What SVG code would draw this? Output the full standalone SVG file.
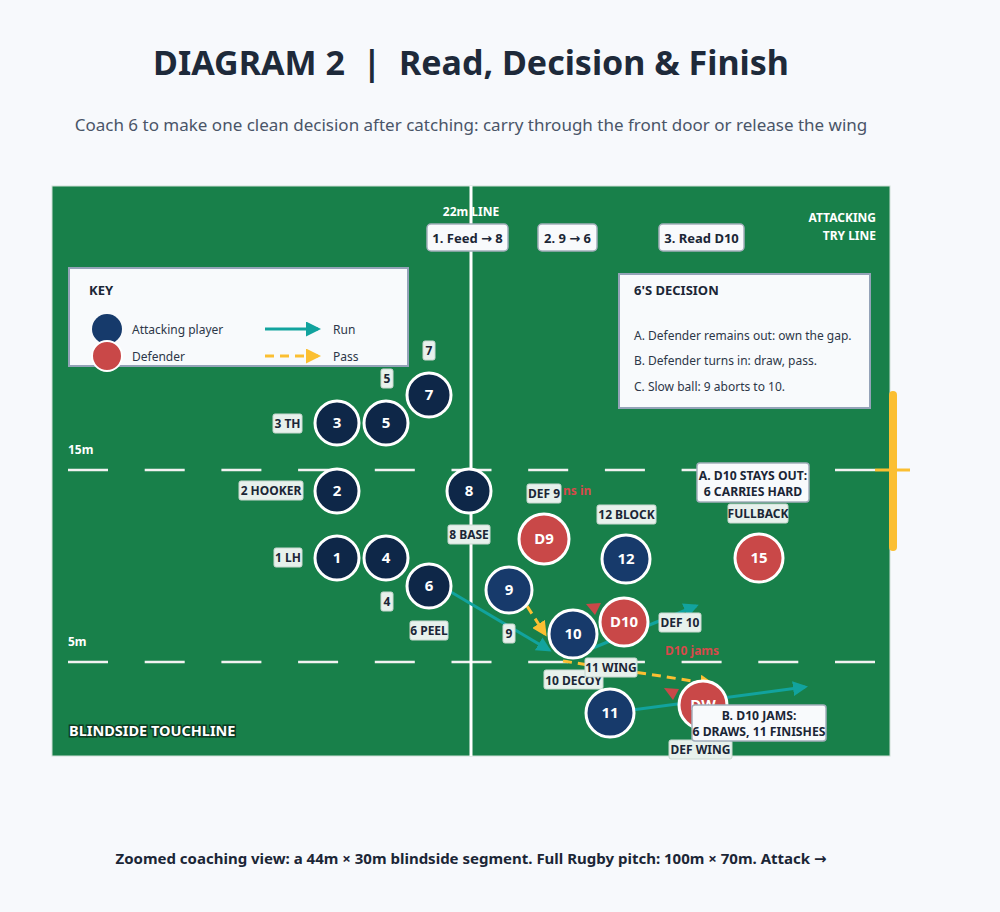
<svg xmlns="http://www.w3.org/2000/svg" width="1000" height="912" viewBox="0 0 1000 912">
<defs>
<marker id="runHead" viewBox="0 0 10 10" refX="8" refY="5" markerWidth="5" markerHeight="5" orient="auto" markerUnits="strokeWidth"><path d="M0,0 L10,5 L0,10 z" fill="#12a39e"/></marker>
<marker id="passHead" viewBox="0 0 10 10" refX="8" refY="5" markerWidth="5" markerHeight="5" orient="auto" markerUnits="strokeWidth"><path d="M0,0 L10,5 L0,10 z" fill="#fbbf32"/></marker>
<style>
text{font-family:"Noto Sans","DejaVu Sans",sans-serif}
.fwd{fill:#0e2748;stroke:#fff;stroke-width:3}
.back{fill:#173a6b;stroke:#fff;stroke-width:3}
.def{fill:#c94848;stroke:#fff;stroke-width:3}
.num{fill:#fff;font-size:15px;font-weight:700;text-anchor:middle}
.lbl{fill:#e7f1ec;stroke:#c9d8d0;stroke-width:1}
.lt{fill:#1b2636;font-size:12px;font-weight:700;text-anchor:middle}
.ct{fill:#1b2636;font-size:12.2px;font-weight:700;text-anchor:middle}
.box{fill:#f8fafc;stroke:#94a3b8;stroke-width:2}
.step{fill:#f8fafc;stroke:#a3aebb;stroke-width:1.5}
.st{fill:#1b2636;font-size:13px;font-weight:700;text-anchor:middle}
.run{stroke:#12a39e;stroke-width:3;fill:none;marker-end:url(#runHead)}
.pass{stroke:#fbbf32;stroke-width:3;fill:none;stroke-dasharray:9 6;marker-end:url(#passHead)}
.wt{fill:#fff;font-size:12px;font-weight:700}
.dash{stroke:#f2f2f2;stroke-width:2.5;stroke-dasharray:40 36.7}
.red{fill:#d64a4a;font-size:12px;font-weight:700}
.kt{fill:#2d3748;font-size:12px}
</style>
</defs>
<rect width="1000" height="912" fill="#f7f9fc"/>
<text x="471" y="75" text-anchor="middle" font-size="34" font-weight="700" fill="#1e2a3a" xml:space="preserve" style="white-space:pre">DIAGRAM 2  |  Read, Decision &amp; Finish</text>
<text x="471" y="131" text-anchor="middle" font-size="17" fill="#4a5568">Coach 6 to make one clean decision after catching: carry through the front door or release the wing</text>

<g id="pitch">
<rect x="52" y="186" width="838" height="570" fill="#18804a" stroke="#cfe0d6" stroke-width="1"/>
<line x1="68" y1="470" x2="876" y2="470" class="dash"/>
<line x1="68" y1="662" x2="876" y2="662" class="dash"/>
<line x1="471" y1="186" x2="471" y2="756" stroke="#fff" stroke-width="3"/>
<text x="68" y="454" class="wt">15m</text>
<text x="68" y="646" class="wt">5m</text>
<text x="471" y="216" class="wt" text-anchor="middle">22m LINE</text>
<text x="876" y="222" class="wt" font-size="13" text-anchor="end">ATTACKING</text>
<text x="876" y="240" class="wt" font-size="13" text-anchor="end">TRY LINE</text>
<line x1="875" y1="470" x2="910" y2="470" stroke="#fbbf32" stroke-width="3"/>
<line x1="893" y1="395" x2="893" y2="547" stroke="#fbbf32" stroke-width="8" stroke-linecap="round"/>
<text x="69" y="736" font-size="14.5" font-weight="700" fill="#fff" stroke="#0d3a22" stroke-width="3" paint-order="stroke">BLINDSIDE TOUCHLINE</text>
</g>

<g id="steps">
<rect x="427" y="224" width="81" height="27" rx="4" class="step"/><text x="467.5" y="243" class="st">1. Feed → 8</text>
<rect x="538" y="224" width="59" height="27" rx="4" class="step"/><text x="567.5" y="243" class="st">2. 9 → 6</text>
<rect x="659" y="224" width="85" height="27" rx="4" class="step"/><text x="701.5" y="243" class="st">3. Read D10</text>
</g>

<g id="key">
<rect x="69" y="268" width="339" height="98" class="box"/>
<text x="89" y="295" font-size="13" font-weight="700" fill="#1b2636">KEY</text>
<circle cx="107" cy="329" r="15" fill="#163a6b"/>
<circle cx="107" cy="356" r="15" fill="#c94848" stroke="#fff" stroke-width="2"/>
<text x="132" y="334" class="kt">Attacking player</text>
<text x="132" y="361" class="kt">Defender</text>
<line x1="265" y1="329" x2="318" y2="329" class="run"/>
<line x1="265" y1="356" x2="318" y2="356" class="pass"/>
<text x="333" y="334" class="kt">Run</text>
<text x="333" y="361" class="kt">Pass</text>
</g>

<g id="decision">
<rect x="619" y="274" width="251" height="134" class="box"/>
<text x="634" y="295" font-size="13" font-weight="700" fill="#1b2636">6'S DECISION</text>
<text x="634" y="340" class="kt">A. Defender remains out: own the gap.</text>
<text x="634" y="365" class="kt">B. Defender turns in: draw, pass.</text>
<text x="634" y="391" class="kt">C. Slow ball: 9 aborts to 10.</text>
</g>

<g id="connectors">
<line x1="451" y1="592" x2="549" y2="650" class="run"/>
<line x1="588" y1="650" x2="696" y2="606" class="run"/>
<line x1="632" y1="710" x2="805" y2="687" class="run"/>
<line x1="527" y1="606" x2="545" y2="634" class="pass"/>
<line x1="563" y1="661" x2="712" y2="684" class="pass"/>
<polygon points="586,604 601,603 595,615" fill="#c94848"/>
<polygon points="664,688 679,689 673,700" fill="#c94848"/>
</g>

<g id="labels">
<rect x="423" y="341" width="12" height="19" rx="2" class="lbl"/><text x="429" y="355" class="lt">7</text>
<rect x="381" y="369" width="12" height="19" rx="2" class="lbl"/><text x="387" y="383" class="lt">5</text>
<rect x="273" y="414" width="29" height="19" rx="2" class="lbl"/><text x="287.5" y="428" class="lt">3 TH</text>
<rect x="239" y="481" width="64" height="19" rx="2" class="lbl"/><text x="271" y="495" class="lt">2 HOOKER</text>
<rect x="274" y="548" width="28" height="19" rx="2" class="lbl"/><text x="288" y="562" class="lt">1 LH</text>
<rect x="381" y="592" width="12" height="19" rx="2" class="lbl"/><text x="387" y="606" class="lt">4</text>
<rect x="410" y="621" width="38" height="19" rx="2" class="lbl"/><text x="429" y="635" class="lt">6 PEEL</text>
<rect x="448" y="525" width="42" height="19" rx="2" class="lbl"/><text x="469" y="539" class="lt">8 BASE</text>
<rect x="503" y="624" width="12" height="19" rx="2" class="lbl"/><text x="509" y="638" class="lt">9</text>
<text x="563" y="495" class="red">ns in</text>
<rect x="527" y="484" width="34" height="19" rx="2" class="lbl"/><text x="544" y="498" class="lt">DEF 9</text>
<rect x="597" y="505" width="59" height="19" rx="2" class="lbl"/><text x="626.5" y="519" class="lt">12 BLOCK</text>
<rect x="659" y="613" width="42" height="19" rx="2" class="lbl"/><text x="680" y="627" class="lt">DEF 10</text>
<text x="692" y="655" class="red" text-anchor="middle">D10 jams</text>
<rect x="544" y="670" width="59" height="19" rx="2" class="lbl"/><text x="573.5" y="685" class="lt">10 DECOY</text>
<rect x="585" y="658" width="52" height="19" rx="2" class="lbl"/><text x="611" y="672" class="lt">11 WING</text>
<rect x="728" y="504" width="60" height="19" rx="2" class="lbl"/><text x="758" y="518" class="lt">FULLBACK</text>
<rect x="669" y="740" width="63" height="19" rx="2" class="lbl"/><text x="700.5" y="754" class="lt">DEF WING</text>
</g>

<g id="p7"><circle cx="429" cy="395" r="22" class="fwd"/><text x="429" y="400" class="num">7</text></g>
<g id="p3"><circle cx="337" cy="423" r="22" class="fwd"/><text x="337" y="428" class="num">3</text></g>
<g id="p5"><circle cx="386" cy="423" r="22" class="fwd"/><text x="386" y="428" class="num">5</text></g>
<g id="p2"><circle cx="337" cy="491" r="22" class="fwd"/><text x="337" y="496" class="num">2</text></g>
<g id="p8"><circle cx="469" cy="491" r="22" class="fwd"/><text x="469" y="496" class="num">8</text></g>
<g id="p1"><circle cx="337" cy="558" r="22" class="fwd"/><text x="337" y="563" class="num">1</text></g>
<g id="p4"><circle cx="386" cy="558" r="22" class="fwd"/><text x="386" y="563" class="num">4</text></g>
<g id="p6"><circle cx="429" cy="586" r="22" class="fwd"/><text x="429" y="591" class="num">6</text></g>
<g id="p9"><circle cx="509" cy="590" r="23" class="back"/><text x="509" y="595" class="num">9</text></g>
<g id="pD9"><circle cx="544" cy="539" r="25" class="def"/><text x="544" y="544" class="num">D9</text></g>
<g id="p12"><circle cx="626" cy="559" r="24" class="back"/><text x="626" y="564" class="num">12</text></g>
<g id="pD10"><circle cx="624" cy="622" r="24" class="def"/><text x="624" y="627" class="num">D10</text></g>
<g id="p10"><circle cx="573" cy="634" r="24" class="back"/><text x="573" y="639" class="num">10</text></g>
<g id="p15"><circle cx="759" cy="558" r="24" class="def"/><text x="759" y="563" class="num">15</text></g>
<g id="p11"><circle cx="610" cy="713" r="24" class="back"/><text x="610" y="718" class="num">11</text></g>
<g id="pDW"><circle cx="703" cy="705" r="24" class="def"/><text x="703" y="710" class="num">DW</text></g>

<g id="calloutA">
<rect x="697" y="463" width="112" height="39" rx="3" fill="#f8fafc" stroke="#a3aebb" stroke-width="1.5"/>
<text x="753" y="480" class="ct">A. D10 STAYS OUT:</text>
<text x="753" y="496" class="ct">6 CARRIES HARD</text>
</g>
<g id="calloutB">
<rect x="692" y="705" width="134" height="36" rx="3" fill="#f8fafc" stroke="#a3aebb" stroke-width="1.5"/>
<text x="759" y="720" class="ct">B. D10 JAMS:</text>
<text x="759" y="736" class="ct">6 DRAWS, 11 FINISHES</text>
</g>

<text x="471" y="864" text-anchor="middle" font-size="15" font-weight="700" fill="#1b2636">Zoomed coaching view: a 44m × 30m blindside segment. Full Rugby pitch: 100m × 70m. Attack →</text>
</svg>
